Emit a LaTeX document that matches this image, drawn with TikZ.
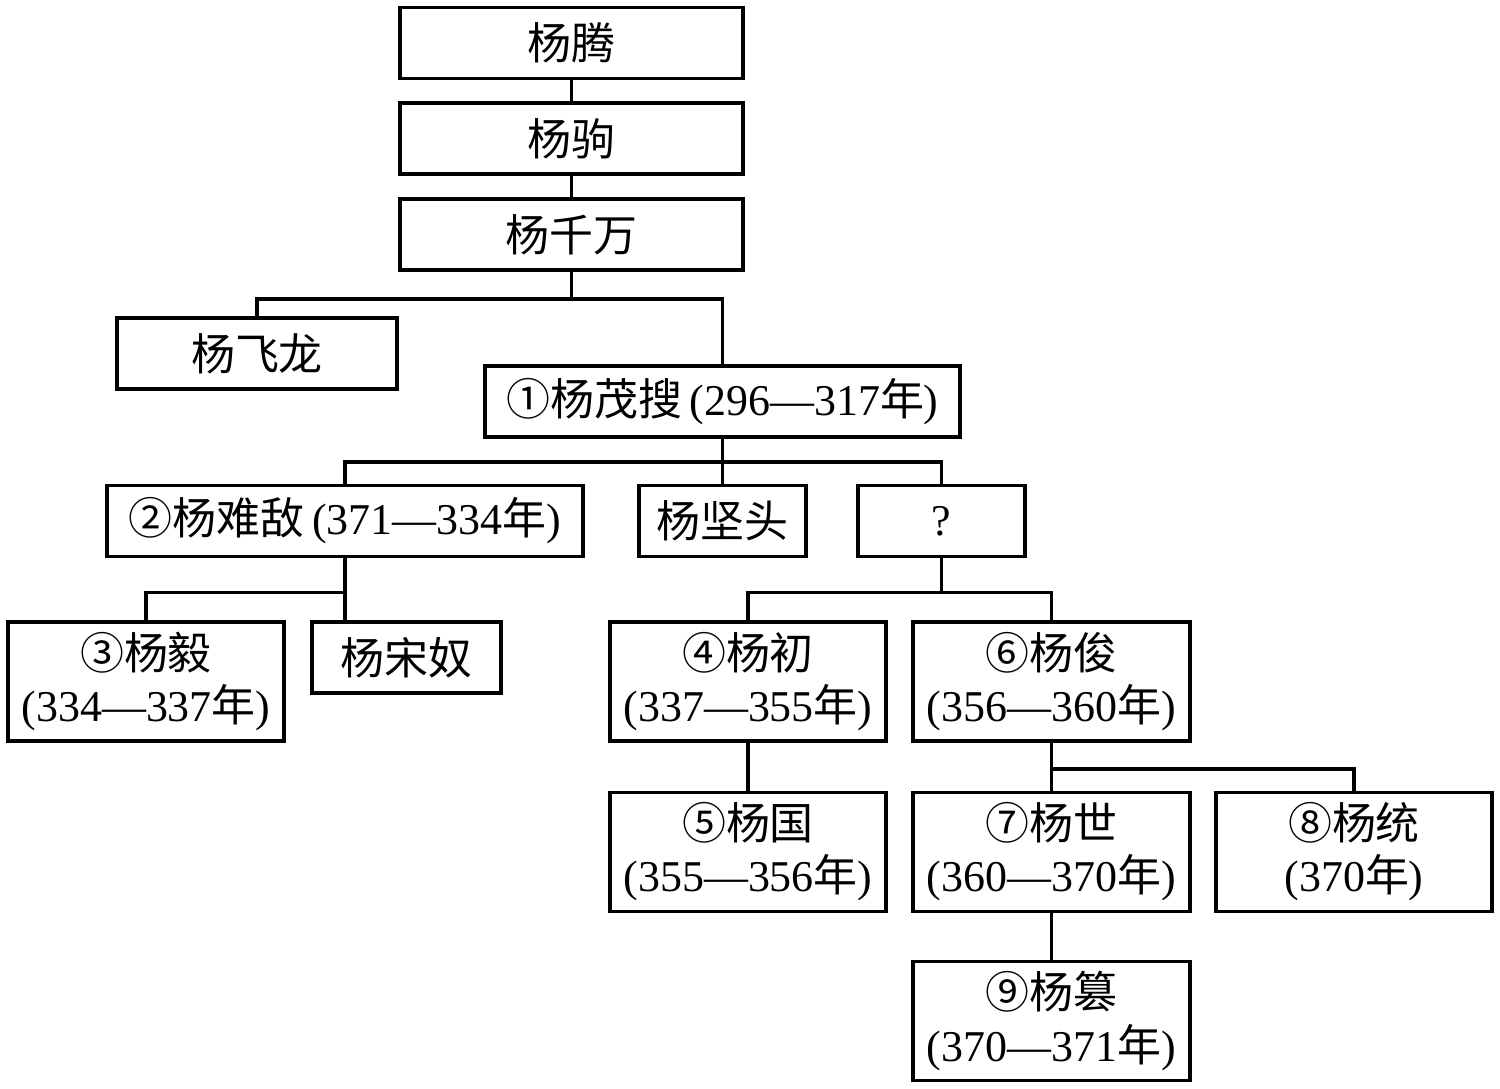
\documentclass[tikz,border=0pt]{standalone}
\usepackage{fontspec}
\setmainfont{Liberation Serif}
\newfontfamily\cjk{Noto Sans CJK SC}
\usetikzlibrary{positioning, calc}

\tikzset{
  person/.style={draw, line width=1pt, inner sep=0pt, align=center, minimum height=7.1mm, font=\fontsize{12.5}{14.8}\selectfont},
  ruler/.style={person, minimum height=11.9mm, minimum width=27.6mm},
  link/.style={line width=1pt}
}

\begin{document}
\begin{tikzpicture}[x=0.01cm, y=-0.01cm]
        \useasboundingbox (0,0) rectangle (1500,1089);
        \node[person, minimum width=34.3mm] (teng) at (571.5,43) {\cjk 杨腾};
        \node[person, minimum width=34.3mm] (ju) at (571.5,138.5) {\cjk 杨驹};
        \node[person, minimum width=34.3mm] (qianwan) at (571.5,234.5) {\cjk 杨千万};
        \node[person, minimum width=28mm] (feilong) at (257,353.5) {\cjk 杨飞龙};
        \node[person, minimum width=47.5mm] (maosou) at (722.5,401.5) {{\cjk ①杨茂搜}\,(296—317{\cjk 年})};
        
        \node[person, minimum width=47.6mm] (nandi) at (345,521) {{\cjk ②杨难敌}\,(371—334{\cjk 年})};
        \node[person, minimum width=16.7mm] (jiantou) at (722.5,521) {\cjk 杨坚头};
        \node[person, minimum width=16.7mm] (unknown) at (941.5,521) {?};
        
        \node[ruler] (yi) at (146,681.5) {{\cjk ③杨毅}\\(334—337{\cjk 年})};
        \node[person, minimum width=18.9mm] (songnu) at (406.5,657.5) {\cjk 杨宋奴};
        \node[ruler] (chu) at (748,681.5) {{\cjk ④杨初}\\(337—355{\cjk 年})};
        \node[ruler, minimum width=27.7mm] (jun) at (1051.5,681.5) {{\cjk ⑥杨俊}\\(356—360{\cjk 年})};
        
        \node[ruler] (guo) at (748,852) {{\cjk ⑤杨国}\\(355—356{\cjk 年})};
        \node[ruler, minimum width=27.7mm] (shi) at (1051.5,852) {{\cjk ⑦杨世}\\(360—370{\cjk 年})};
        \node[ruler] (tong) at (1354,852) {{\cjk ⑧杨统}\\(370{\cjk 年})};
        \node[ruler, minimum width=27.7mm] (zuan) at (1051.5,1021) {{\cjk ⑨杨篡}\\(370—371{\cjk 年})};
        
        \coordinate (b1) at ($(qianwan.south)+(0,27)$);
        \coordinate (b2) at ($(maosou.south)+(0,23)$);
        \coordinate (b3) at ($(nandi.south)+(0,34)$);
        \coordinate (b4) at ($(unknown.south)+(0,34)$);
        \coordinate (b5) at ($(jun.south)+(0,26)$);
        
        \draw[link] (teng) -- (ju);
        \draw[link] (ju) -- (qianwan);
        \draw[link] (qianwan.south) -- (b1);
        \draw[link] (feilong.north) |- (b1) -| (maosou.north);
        \draw[link] (maosou.south) -- (jiantou.north);
        \draw[link] (nandi.north) |- (b2) -| (unknown.north);
        \draw[link] (nandi.south) -- (nandi.south |- songnu.north);
        \draw[link] (yi.north) |- (b3);
        \draw[link] (unknown.south) -- (b4);
        \draw[link] (chu.north) |- (b4) -| (jun.north);
        \draw[link] (chu) -- (guo);
        \draw[link] (jun) -- (shi);
        \draw[link] (b5) -| (tong.north);
        \draw[link] (shi) -- (zuan);
\end{tikzpicture}
\end{document}
